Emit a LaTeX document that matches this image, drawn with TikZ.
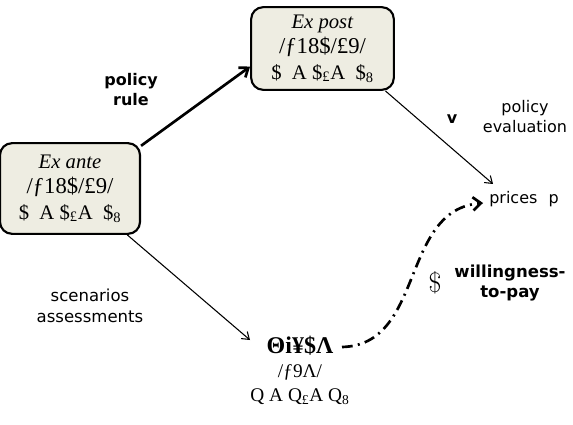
\documentclass[tikz,border=0pt]{standalone}
\usepackage{fontspec}
\setmainfont{Liberation Serif}
\newfontfamily\lab{DejaVu Sans}
\newfontfamily\lmfont{Latin Modern Roman}
\usetikzlibrary{arrows.meta,calc}
\definecolor{boxfill}{RGB}{238,237,226}
\tikzset{
  box/.style={draw, line width=1.6pt, rounded corners=9pt, fill=boxfill, align=center,
    inner sep=0pt, font=\fontsize{15.5}{19}\selectfont},
  garble/.style={align=center, inner sep=0pt, font=\fontsize{14.5}{18}\selectfont},
  lbl/.style={align=center, inner sep=0pt, font=\lab\fontsize{12}{15}\selectfont},
  blbl/.style={align=center, inner sep=0pt, font=\lab\bfseries\fontsize{12}{15}\selectfont},
  thinarrow/.style={-{Straight Barb[length=5pt,width=7pt]}, line width=0.8pt},
  thickarrow/.style={-{Straight Barb[length=6pt,width=9pt]}, line width=2pt},
  wtparrow/.style={-{Straight Barb[length=6pt,width=10pt]}, line width=2pt,
    dash pattern=on 8pt off 4pt on 1.5pt off 4pt},
}
\begin{document}
\begin{tikzpicture}[x=0.75pt,y=-0.75pt]
\useasboundingbox (0,0) rectangle (573,424);
\node[box, minimum width=105pt, minimum height=68pt] (exante) at (70,188.5)
  {\textit{Ex ante}\\ {\fontsize{17}{19}\selectfont /ƒ18\$/£9/}\\ \$\ \ A \$\textsubscript{£}A \ \$\textsubscript{8}};
\node[box, minimum width=107pt, minimum height=62pt] (expost) at (322.5,48.5)
  {\textit{Ex post}\\ {\fontsize{17}{19}\selectfont /ƒ18\$/£9/}\\ \$\ \ A \$\textsubscript{£}A \ \$\textsubscript{8}};
\node[garble] (bottom) at (300,370)
  {{\fontsize{18}{18}\selectfont\bfseries Θi¥\$Λ}\\ /ƒ9Λ/\\ Q A Q\textsubscript{£}A Q\textsubscript{8}};
\node[lbl, anchor=west] (prices) at (489,199) {prices\hspace{0.7em}p};
\node[blbl] (rule) at (131,90) {policy\\rule};
\node[blbl] (v) at (452,119) {v};
\node[lbl] (evaluation) at (525,117) {policy\\evaluation};
\node[inner sep=0pt, font=\lmfont\fontsize{21}{21}\selectfont] (dollar) at (435,283) {\$};
\node[blbl, font=\lab\bfseries\fontsize{12.4}{15.5}\selectfont] (wtp) at (510,283) {willingness-\\to-pay};
\node[lbl, font=\lab\fontsize{12.4}{15.5}\selectfont] (scen) at (90,306) {scenarios\\assessments};

\draw[thickarrow] (exante.31) -- (expost.194);
\draw[thinarrow] (expost.-34) -- ($(prices.north west)+(4,-7)$);
\draw[thinarrow] (exante.-39.5) -- ($(bottom.center)+(-50,-30)$);
\draw[wtparrow] ($(bottom.center)+(42,-23)$) .. controls (425,345) and (400,210) .. ($(prices.west)+(-6,4)$);
\end{tikzpicture}
\end{document}
